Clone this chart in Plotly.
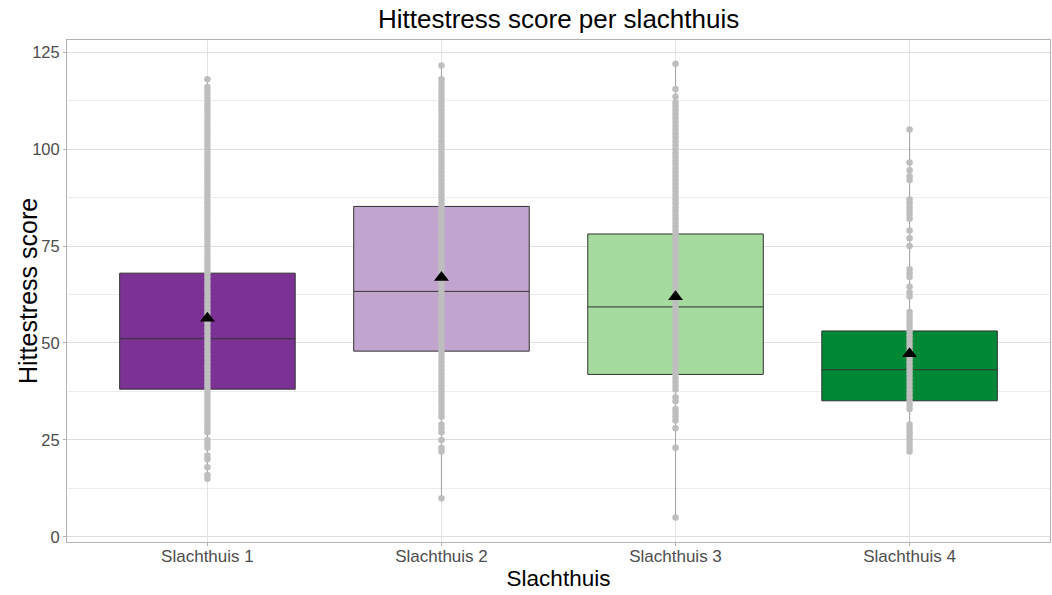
import plotly.graph_objects as go

categories = ["Slachthuis 1", "Slachthuis 2", "Slachthuis 3", "Slachthuis 4"]
box_colors = ["#7B3294", "#C2A5CF", "#A6DBA0", "#008837"]
q1_values = [38.1, 47.9, 41.9, 35.1]
median_values = [51.1, 63.3, 59.3, 43.1]
q3_values = [68.0, 85.2, 78.1, 53.1]
mean_values = [56.4, 66.9, 61.9, 47.2]

points_1 = [15, 16, 18, 20, 21, 23, 24, 25, 27, 28, 29, 30, 31, 32, 33, 34, 35,
            36, 37, 38, 39, 40, 41, 42, 43, 44, 45, 46, 47, 48, 49, 50, 51, 52,
            53, 54, 55, 56, 57, 58, 59, 60, 61, 62, 63, 64, 65, 66, 67, 68, 69,
            70, 71, 72, 73, 74, 75, 76, 77, 78, 79, 80, 81, 82, 83, 84, 85, 86,
            87, 88, 89, 90, 91, 92, 93, 94, 95, 96, 97, 98, 99, 100, 101, 102,
            103, 104, 105, 106, 107, 108, 109, 110, 111, 112, 113, 114, 115,
            116, 118]
points_2 = [10, 22, 23, 25, 27, 28, 29, 31, 32, 33, 34, 35, 36, 37, 38, 39, 40,
            41, 42, 43, 44, 45, 46, 47, 48, 49, 50, 51, 52, 53, 54, 55, 56, 57,
            58, 59, 60, 61, 62, 63, 64, 65, 66, 67, 68, 69, 70, 71, 72, 73, 74,
            75, 76, 77, 78, 79, 80, 81, 82, 83, 84, 85, 86, 87, 88, 89, 90, 91,
            92, 93, 94, 95, 96, 97, 98, 99, 100, 101, 102, 103, 104, 105, 106,
            107, 108, 109, 110, 111, 112, 113, 114, 115, 116, 117, 118, 121.5]
points_3 = [5, 23, 28, 30, 31, 32, 33, 35, 36, 38, 39, 40, 41, 42, 43, 44, 45,
            46, 47, 48, 49, 50, 51, 52, 53, 54, 55, 56, 57, 58, 59, 60, 61, 62,
            63, 64, 65, 66, 67, 68, 69, 70, 71, 72, 73, 74, 75, 76, 77, 78, 79,
            80, 81, 82, 83, 84, 85, 86, 87, 88, 89, 90, 91, 92, 93, 94, 95, 96,
            97, 98, 99, 100, 101, 102, 103, 104, 105, 106, 107, 108, 109, 110,
            111, 112, 113.5, 115.5, 122]
points_4 = [22, 23, 24, 25, 26, 27, 28, 29, 33, 34, 35, 36, 37, 38, 39, 40, 41,
            42, 43, 44, 45, 46, 47, 48, 49, 50, 51, 52, 53, 54, 55, 56, 57, 58,
            62, 63, 64.5, 67, 68, 69, 75, 77, 79, 82, 83, 84, 85, 86, 87, 92, 93,
            94.5, 96.5, 105]
all_points = [points_1, points_2, points_3, points_4]

fig = go.Figure()

# whisker lines (min to max), drawn as very thin boxes
for cat, pts in zip(categories, all_points):
    lo, hi = min(pts), max(pts)
    fig.add_trace(go.Box(
        x=[cat], q1=[lo], median=[lo], q3=[hi], lowerfence=[lo], upperfence=[hi],
        width=0.0005, line=dict(color="#a6a6a6", width=1), fillcolor="#a6a6a6",
        boxpoints=False, showlegend=False, hoverinfo="skip"))

# boxes
for cat, col, a, m, b in zip(categories, box_colors, q1_values, median_values, q3_values):
    fig.add_trace(go.Box(
        x=[cat], q1=[a], median=[m], q3=[b], lowerfence=[a], upperfence=[b],
        width=0.75, fillcolor=col, line=dict(color="#333333", width=1),
        whiskerwidth=0, boxpoints=False, showlegend=False))

# raw points
for cat, pts in zip(categories, all_points):
    fig.add_trace(go.Scatter(
        x=[cat] * len(pts), y=pts, mode="markers",
        marker=dict(color="#bebebe", size=6.5), showlegend=False))

# means
fig.add_trace(go.Scatter(
    x=categories, y=mean_values, mode="markers",
    marker=dict(symbol="triangle-up", color="black", size=13),
    showlegend=False))

fig.update_layout(
    width=1052, height=595,
    margin=dict(l=67, r=2, t=40, b=53),
    paper_bgcolor="white", plot_bgcolor="white",
    boxmode="overlay",
    font=dict(family="Liberation Sans, Arial, sans-serif", color="#4d4d4d"),
    title=dict(text="Hittestress score per slachthuis", x=0.531, xanchor="center",
               y=0.969, yanchor="middle",
               font=dict(size=26, color="black")),
    annotations=[dict(
        text="Hittestress score", textangle=-90,
        xref="paper", yref="paper", x=-39 / 983, y=0.5,
        xanchor="center", yanchor="middle", showarrow=False,
        font=dict(size=25, color="black"))],
)
fig.update_xaxes(
    type="category", range=[-0.6, 3.6],
    showgrid=True, gridcolor="#e3e3e3", gridwidth=1,
    showline=True, mirror=True, linecolor="#b3b3b3", linewidth=1,
    ticks="outside", ticklen=3, tickcolor="#b3b3b3",
    tickfont=dict(size=17, color="#4d4d4d"), ticklabelstandoff=-4,
    title=dict(text="Slachthuis", font=dict(size=22.5, color="black"), standoff=4),
    zeroline=False)
fig.update_yaxes(
    range=[-1.3, 128.1], tick0=0, dtick=25,
    showgrid=True, gridcolor="#dedede", gridwidth=1,
    minor=dict(dtick=12.5, showgrid=True, gridcolor="#ececec", gridwidth=1),
    showline=True, mirror=True, linecolor="#b3b3b3", linewidth=1,
    ticks="outside", ticklen=3, tickcolor="#b3b3b3",
    tickfont=dict(size=16.5, color="#4d4d4d"),
    zeroline=False)

fig.write_html(
    "out.html",
    config={"displayModeBar": False},
    post_script="document.body.style.margin='0px';document.body.style.overflow='hidden';",
)
